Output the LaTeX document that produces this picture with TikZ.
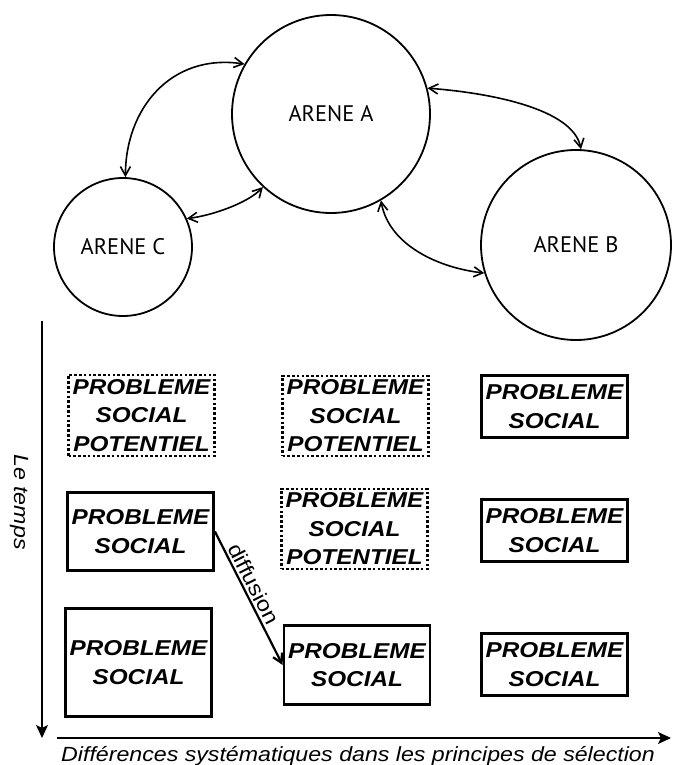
\documentclass[tikz,border=0pt]{standalone}
\usepackage{fontspec}
\setmainfont{Liberation Sans}
\newfontfamily\arialS[FakeStretch=1.13]{Liberation Sans}
\newfontfamily\myriad{PT Sans}
\usetikzlibrary{arrows.meta}
\begin{document}
\begin{tikzpicture}[x=1pt,y=-1pt,
 arena/.style={circle,draw,line width=1.8pt,inner sep=0pt,font=\myriad\fontsize{22.5}{26}\selectfont},
 pbox/.style={draw,line width=2.8pt,inner sep=0pt,align=center,minimum width=146pt,font=\arialS\bfseries\itshape\fontsize{21.5}{28.5}\selectfont},
 pot/.style={pbox,dash pattern=on 2.6pt off 2.2pt},
 link/.style={line width=1.6pt,{Straight Barb[length=9pt,width=10pt]}-{Straight Barb[length=9pt,width=10pt]}},
 axis/.style={line width=1.5pt,-{Stealth[length=13pt,width=12pt,inset=3pt]}},
 lab/.style={font=\arialS\itshape\fontsize{20.5}{24}\selectfont}
]
\useasboundingbox (0,0) rectangle (673,765);
\node[arena,minimum size=198pt] (A) at (331,114) {ARENE A};
\node[arena,minimum size=138pt] (C) at (123,247) {ARENE C};
\node[arena,minimum size=190pt] (B) at (576,245) {ARENE B};
\draw[link] (C.88) .. controls +(0,-68) and +(-74,-11) .. (A.150);
\draw[link] (C.24) .. controls +(25,-3) and +(-15,16) .. (A.-133);
\draw[link] (A.15) .. controls +(65,5) and +(-8,-40) .. (B.87);
\draw[link] (A.-60) .. controls +(8,45) and +(-45,-5) .. (B.197);
\node[pot, minimum height=81pt] (p11) at (141.5,415.5) {PROBLEME\\SOCIAL\\POTENTIEL};
\node[pot, minimum height=80pt] (p12) at (355.5,416) {PROBLEME\\SOCIAL\\POTENTIEL};
\node[pbox, minimum height=62pt] (p13) at (554.5,406.5) {PROBLEME\\SOCIAL};
\node[pbox, minimum height=78pt] (p21) at (140.5,531.5) {PROBLEME\\SOCIAL};
\node[pot, minimum height=80pt] (p22) at (354.5,529) {PROBLEME\\SOCIAL\\POTENTIEL};
\node[pbox, minimum height=62pt] (p23) at (554.5,530.5) {PROBLEME\\SOCIAL};
\node[pbox, minimum height=108pt] (p31) at (138.5,662.5) {PROBLEME\\SOCIAL};
\node[pbox, minimum height=79pt] (p32) at (357,665) {PROBLEME\\SOCIAL};
\node[pbox, minimum height=62pt] (p33) at (554.5,664.5) {PROBLEME\\SOCIAL};
\draw[line width=2.2pt,-{Straight Barb[length=9pt,width=10pt]}] (p21.east) -- node[pos=0.43,sloped,above=-1pt,font=\arialS\fontsize{21}{24}\selectfont] (dlab) {diffusion} (p32.west);
\coordinate (vt) at (42,321);
\coordinate (vb) at (42,738);
\coordinate (hl) at (57,738);
\coordinate (hr) at (671,738);
\draw[axis] (vt) -- (vb);
\draw[axis] (hl) -- (hr);
\node[lab,rotate=-90] (temps) at (19,502) {Le temps};
\node[lab,anchor=base] (diff) at (358,761) {Différences systématiques dans les principes de sélection};
\end{tikzpicture}
\end{document}
